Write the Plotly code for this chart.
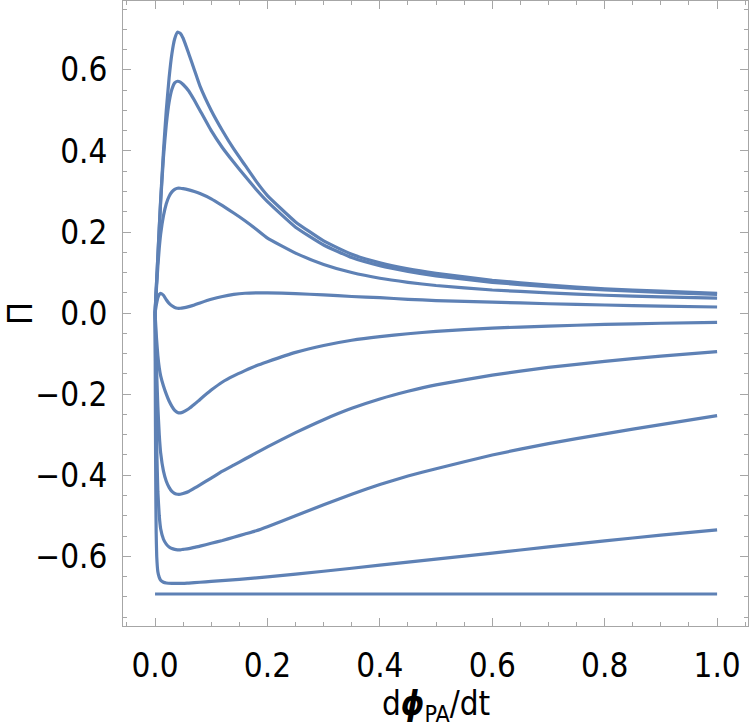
import plotly.graph_objects as go

x_main = [0, 0.0025, 0.005, 0.0075, 0.01, 0.015, 0.02, 0.025, 0.03, 0.035, 0.04, 0.045, 0.05,
          0.06, 0.07, 0.08, 0.1, 0.12, 0.14, 0.16, 0.18, 0.2, 0.25, 0.3, 0.35, 0.4, 0.45, 0.5,
          0.6, 0.7, 0.8, 0.9, 1.0]

y_a = [0, 0.07, 0.14, 0.21, 0.28, 0.40, 0.50, 0.58, 0.64, 0.677, 0.693, 0.69, 0.678,
       0.64, 0.60, 0.56, 0.50, 0.45, 0.405, 0.365, 0.325, 0.29, 0.225, 0.178, 0.145, 0.124, 0.109, 0.098,
       0.081, 0.069, 0.06, 0.054, 0.049]

y_b = [0, 0.07, 0.14, 0.21, 0.275, 0.385, 0.465, 0.52, 0.552, 0.568, 0.572, 0.57, 0.564,
       0.548, 0.525, 0.50, 0.45, 0.408, 0.372, 0.338, 0.305, 0.275, 0.212, 0.168, 0.137, 0.117, 0.103, 0.092,
       0.076, 0.065, 0.057, 0.051, 0.046]

y_c = [0, 0.06, 0.115, 0.16, 0.195, 0.24, 0.27, 0.288, 0.299, 0.305, 0.308, 0.308, 0.307,
       0.304, 0.30, 0.295, 0.282, 0.265, 0.247, 0.228, 0.207, 0.185, 0.148, 0.12, 0.10, 0.086, 0.076, 0.068,
       0.057, 0.05, 0.044, 0.04, 0.037]

y_d = [0, 0.022, 0.038, 0.046, 0.049, 0.044, 0.033, 0.024, 0.018, 0.014, 0.012, 0.012, 0.013,
       0.016, 0.02, 0.025, 0.034, 0.041, 0.046, 0.049, 0.05, 0.05, 0.048, 0.045, 0.041, 0.038, 0.034, 0.031,
       0.027, 0.023, 0.02, 0.017, 0.015]

y_e = [0, -0.06, -0.105, -0.135, -0.155, -0.18, -0.2, -0.217, -0.23, -0.24, -0.245, -0.246, -0.244,
       -0.236, -0.225, -0.213, -0.19, -0.17, -0.155, -0.142, -0.13, -0.12, -0.097, -0.08, -0.067, -0.058, -0.051, -0.045,
       -0.037, -0.032, -0.028, -0.025, -0.023]

y_f = [0, -0.13, -0.23, -0.30, -0.345, -0.39, -0.415, -0.43, -0.44, -0.445, -0.447, -0.447, -0.445,
       -0.44, -0.432, -0.424, -0.407, -0.39, -0.375, -0.36, -0.345, -0.33, -0.295, -0.263, -0.235, -0.212, -0.193, -0.177,
       -0.153, -0.134, -0.119, -0.106, -0.095]

x_g = [0, 0.001, 0.002, 0.003, 0.005, 0.0075, 0.01, 0.015, 0.02, 0.025, 0.03, 0.035, 0.04, 0.045, 0.05,
       0.06, 0.07, 0.08, 0.1, 0.12, 0.14, 0.16, 0.18, 0.2, 0.25, 0.3, 0.35, 0.4, 0.45, 0.5,
       0.6, 0.7, 0.8, 0.9, 1.0]
y_g = [0, -0.12, -0.24, -0.33, -0.44, -0.50, -0.532, -0.558, -0.57, -0.577, -0.581, -0.583, -0.584, -0.584, -0.583,
       -0.581, -0.578, -0.575, -0.568, -0.561, -0.553, -0.545, -0.537, -0.527, -0.50, -0.473, -0.447, -0.423, -0.402, -0.384,
       -0.35, -0.322, -0.298, -0.275, -0.253]

x_h = [0, 0.0005, 0.001, 0.0015, 0.002, 0.003, 0.005, 0.0075, 0.01, 0.015, 0.02, 0.03, 0.04, 0.05,
       0.06, 0.08, 0.1, 0.15, 0.2, 0.3, 0.4, 0.5, 0.6, 0.7, 0.8, 0.9, 1.0]
y_h = [0, -0.2, -0.36, -0.47, -0.54, -0.60, -0.638, -0.652, -0.659, -0.664, -0.666, -0.667, -0.667, -0.667,
       -0.666, -0.664, -0.662, -0.657, -0.651, -0.637, -0.622, -0.607, -0.592, -0.577, -0.562, -0.548, -0.535]

x_i = [0, 1.0]
y_i = [-0.693, -0.693]

curves = [(x_main, y_a), (x_main, y_b), (x_main, y_c), (x_main, y_d), (x_main, y_e),
          (x_main, y_f), (x_g, y_g), (x_h, y_h), (x_i, y_i)]

x_ticks = [0.0, 0.2, 0.4, 0.6, 0.8, 1.0]
y_ticks = [-0.6, -0.4, -0.2, 0.0, 0.2, 0.4, 0.6]

LINE = "#5E81B5"
FRAME = "#a6a6a6"
FONT = "Liberation Sans Narrow, DejaVu Sans Condensed, Liberation Sans, Arial, sans-serif"

fig = go.Figure()
for xs, ys in curves:
    fig.add_trace(go.Scatter(x=xs, y=ys, mode="lines",
                             line=dict(color=LINE, width=3.2, shape="spline", smoothing=0.4),
                             showlegend=False, hoverinfo="skip"))

axis_common = dict(
    showgrid=False, zeroline=False, showline=True, linecolor=FRAME, linewidth=1,
    mirror="allticks", ticks="inside", ticklen=8, tickcolor=FRAME, tickwidth=1,
    tickfont=dict(family=FONT, size=33, color="black"), automargin=False,
    minor=dict(ticks="inside", ticklen=4, tickcolor=FRAME, dtick=0.05, showgrid=False),
)

fig.update_layout(
    width=750, height=723,
    margin=dict(l=123, r=2, t=1, b=97, autoexpand=False),
    paper_bgcolor="white", plot_bgcolor="white",
    xaxis=dict(range=[-0.057, 1.055], tickvals=x_ticks,
               ticktext=[f"{v:.1f}" for v in x_ticks], ticklabelstandoff=10,
               **axis_common),
    yaxis=dict(range=[-0.772, 0.77], tickvals=y_ticks,
               ticktext=[("\u2212" if v < 0 else "") + f"{abs(v):.1f}" for v in y_ticks],
               ticklabelstandoff=8,
               title=dict(text="Π", font=dict(family=FONT, size=34, color="black"), standoff=10),
               **axis_common),
    annotations=[dict(text="d<b><i>ϕ</i></b><sub>PA</sub>/dt", xref="paper", yref="paper",
                      x=0.5, y=-0.127, xanchor="center", yanchor="middle", showarrow=False,
                      font=dict(family=FONT, size=33, color="black"))],
)

fig.write_html("out.html")
